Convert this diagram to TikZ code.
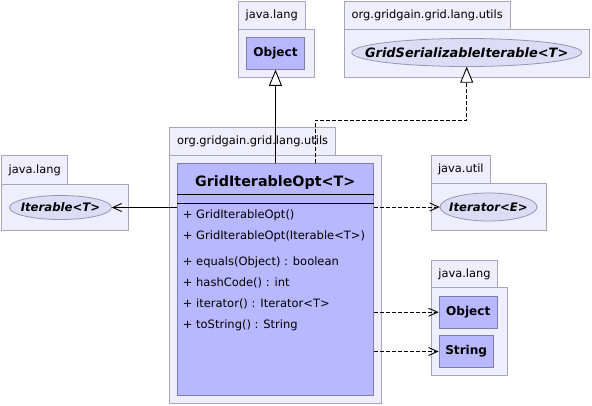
\documentclass[tikz,border=0pt]{standalone}
\usepackage{fontspec}
\setmainfont{DejaVu Sans}
\usetikzlibrary{arrows.meta,shapes.geometric}
\definecolor{pkgfill}{HTML}{EEEEFC}
\definecolor{pkgdraw}{HTML}{A6A6B8}
\definecolor{clsfill}{HTML}{B7B8FF}
\definecolor{clsdraw}{HTML}{7E7EA6}
\definecolor{iffill}{HTML}{DCDCF7}
\definecolor{ifdraw}{HTML}{9696B0}
\begin{document}
\begin{tikzpicture}[x=1pt,y=-1pt,
  pkg/.style={draw=pkgdraw,fill=pkgfill,line width=0.9pt},
  pkglabel/.style={inner sep=0pt,font=\fontsize{11.4}{13}\selectfont},
  smallcls/.style={draw=clsdraw,fill=clsfill,line width=0.9pt,inner sep=0pt,
    font=\fontsize{12.1}{14}\selectfont\bfseries},
  bigcls/.style={draw=clsdraw,fill=clsfill,line width=0.9pt,inner sep=0pt},
  iface/.style={inner sep=0pt,font=\fontsize{11.7}{13}\selectfont\bfseries\itshape},
  ifshape/.style={draw=ifdraw,fill=iffill,line width=0.8pt},
  member/.style={anchor=base west,inner sep=0pt,font=\fontsize{11.5}{13}\selectfont},
  conn/.style={draw=black,line width=0.9pt},
  gen/.style={conn,-{Triangle[open,length=16pt,width=13pt,fill=white]}},
  real/.style={conn,dash pattern=on 4pt off 2pt,-{Triangle[open,length=16pt,width=13pt,fill=white]}},
  assoc/.style={conn,-{Straight Barb[length=9pt,width=8pt]}},
  dep/.style={conn,dash pattern=on 4pt off 2pt,-{Straight Barb[length=9pt,width=8pt]}}]
\useasboundingbox (0,0) rectangle (592,405);
\fill[white] (0,0) rectangle (592,405);

% package java.lang (top)
\draw[pkg] (238.3,1.7) rectangle (305,29);
\draw[pkg] (238.3,29) rectangle (314.3,77.3);
\node[pkglabel] (lblA) at (271.7,15.3) {java.lang};
\node[smallcls,minimum width=57.7pt,minimum height=32pt] (objA) at (275.5,53.3) {Object};

% package org.gridgain.grid.lang.utils (top right)
\draw[pkg] (344.3,1.7) rectangle (510,29);
\draw[pkg] (344.3,29) rectangle (589.5,77);
\node[pkglabel] (lblB) at (427.2,15.3) {org.gridgain.grid.lang.utils};
\draw[ifshape] (466.7,52.5) ellipse [x radius=115pt, y radius=14pt];
\node[iface,minimum width=230pt,minimum height=28pt,font=\fontsize{12.9}{14}\selectfont\bfseries\itshape] (gsi) at (466.7,52.5) {GridSerializableIterable<T>};

% main package
\draw[pkg] (169.5,127.3) rectangle (335.7,155);
\draw[pkg] (169.5,155) rectangle (381,403.3);
\node[pkglabel] (lblC) at (252.6,141) {org.gridgain.grid.lang.utils};
\node[bigcls,minimum width=196pt,minimum height=232pt] (cls) at (275.3,279.3) {};
\node[anchor=base,inner sep=0pt,font=\fontsize{14.3}{16}\selectfont\bfseries] (title) at (275.3,186.5) {GridIterableOpt<T>};
\draw[line width=0.9pt] (cls.west |- 0,194) -- (cls.east |- 0,194);
\draw[line width=0.9pt] (cls.west |- 0,203) -- (cls.east |- 0,203);
\node[member] (m1) at (182.7,218.3) {+ GridIterableOpt()};
\node[member] (m2) at (182.7,239) {+ GridIterableOpt(Iterable<T>)};
\node[member] (m3) at (182.7,265.7) {+ equals(Object) : boolean};
\node[member] (m4) at (182.7,286.7) {+ hashCode() : int};
\node[member] (m5) at (182.7,307.3) {+ iterator() : Iterator<T>};
\node[member] (m6) at (182.7,328) {+ toString() : String};

% package java.lang (left)
\draw[pkg] (1.7,155.7) rectangle (67.7,184.3);
\draw[pkg] (1.7,184.3) rectangle (128.3,230);
\node[pkglabel] (lblD) at (34.7,170) {java.lang};
\draw[ifshape] (60.5,207.5) ellipse [x radius=51pt, y radius=12pt];
\node[iface,minimum width=102pt,minimum height=24pt] (itb) at (60.5,207.5) {Iterable<T>};

% package java.util
\draw[pkg] (431.7,155) rectangle (490,183.3);
\draw[pkg] (431.7,183.3) rectangle (546,230);
\node[pkglabel] (lblE) at (460.8,169) {java.util};
\draw[ifshape] (488.5,207) ellipse [x radius=48.5pt, y radius=14pt];
\node[iface,minimum width=97pt,minimum height=28pt] (itr) at (488.5,207) {Iterator<E>};

% package java.lang (bottom right)
\draw[pkg] (431.7,260) rectangle (497.3,287.7);
\draw[pkg] (431.7,287.7) rectangle (507.3,375.3);
\node[pkglabel] (lblF) at (464.5,274) {java.lang};
\node[smallcls,minimum width=58.3pt,minimum height=32.3pt] (objB) at (468.2,312.2) {Object};
\node[smallcls,minimum width=54.3pt,minimum height=31.3pt] (strB) at (466.2,351.5) {String};

% connectors
\draw[gen] (cls.north -| objA) -- (objA.south);
\coordinate (rb) at (315,120);
\draw[real] (cls.north -| rb) -- (rb) -| (gsi.south);
\draw[assoc] (cls.west |- itb) -- (itb.east);
\draw[dep] (cls.east |- itr) -- (itr.west);
\draw[dep] (cls.east |- objB) -- (objB.west);
\draw[dep] (cls.east |- strB) -- (strB.west);
\end{tikzpicture}
\end{document}
